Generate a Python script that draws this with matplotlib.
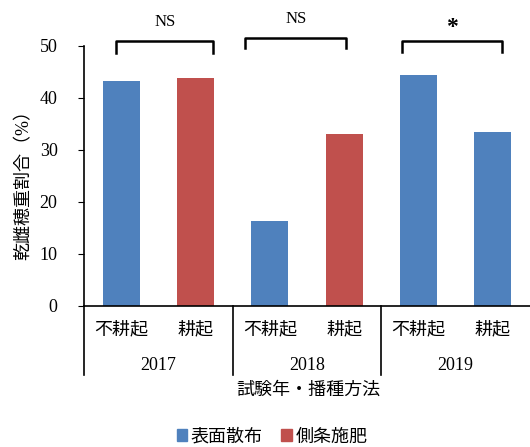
import matplotlib
matplotlib.use("Agg")
import matplotlib.pyplot as plt
from matplotlib.patches import Patch

plt.rcParams['font.family'] = ['Liberation Serif', 'Noto Sans CJK JP']

# data
years = ["2017", "2018", "2019"]
methods = ["不耕起", "耕起", "不耕起", "耕起", "不耕起", "耕起"]
values = [43.2, 43.8, 16.3, 33.1, 44.4, 33.5]
series = ["表面散布", "側条施肥", "表面散布", "側条施肥", "表面散布", "表面散布"]
sig_labels = ["NS", "NS", "*"]
colors = {"表面散布": "#4F81BD", "側条施肥": "#C0504D"}

fig = plt.figure(figsize=(5.3, 4.47), dpi=100)
ax = fig.add_axes([84 / 530, 141 / 447, 446 / 530, 260 / 447])

x = list(range(len(values)))
ax.bar(x, values, width=0.5, color=[colors[s] for s in series])

ax.set_xlim(-0.5, 5.5)
ax.set_ylim(0, 50)
ax.set_yticks([0, 10, 20, 30, 40, 50])
ax.tick_params(axis="y", direction="out", length=4, labelsize=13, pad=15)
ax.set_xticks([])
ax.spines["top"].set_visible(False)
ax.spines["right"].set_visible(False)
ax.spines["left"].set_linewidth(1.2)
ax.spines["bottom"].set_linewidth(1.2)

# multi-level category axis
trans = ax.get_xaxis_transform()
for xs in [-0.5, 1.5, 3.5]:
    ax.plot([xs, xs], [0, -0.265], color="black", lw=1.2, transform=trans, clip_on=False)
for xi, m in zip(x, methods):
    ax.text(xi, -0.09, m, ha="center", va="center", fontsize=13, transform=trans)
for i, yr in enumerate(years):
    ax.text(2 * i + 0.5, -0.23, yr, ha="center", va="center", fontsize=13, transform=trans)

fig.text(308 / 530, 1 - 390 / 447, "試験年・播種方法", ha="center", va="center", fontsize=13)
fig.text(24 / 530, 1 - 181 / 447, "乾雌穂重割合（%）", ha="center", va="center",
         rotation=90, fontsize=13)

# significance brackets
brackets = [(-0.07, 1.24, 51.0, 48.7), (1.67, 3.03, 51.5, 49.6), (3.78, 5.12, 51.0, 48.8)]
for (x0, x1, top, bot), lab in zip(brackets, sig_labels):
    ax.plot([x0, x0, x1, x1], [bot, top, top, bot], color="black", lw=1.8, clip_on=False)
    if lab == "*":
        ax.text((x0 + x1) / 2, top + 2.6, lab, ha="center", va="center", fontsize=17,
                fontweight="bold", clip_on=False)
    else:
        ax.text((x0 + x1) / 2, top + 3.6, lab, ha="center", va="center", fontsize=12, clip_on=False)

handles = [Patch(color=colors["表面散布"]), Patch(color=colors["側条施肥"])]
fig.legend(handles, ["表面散布", "側条施肥"], loc="center", bbox_to_anchor=(272 / 530, 1 - 437 / 447),
           ncol=2, frameon=False, fontsize=13, handlelength=0.6, handleheight=0.6,
           handletextpad=0.2, columnspacing=1.0)

fig.savefig("out.png", dpi=100)
